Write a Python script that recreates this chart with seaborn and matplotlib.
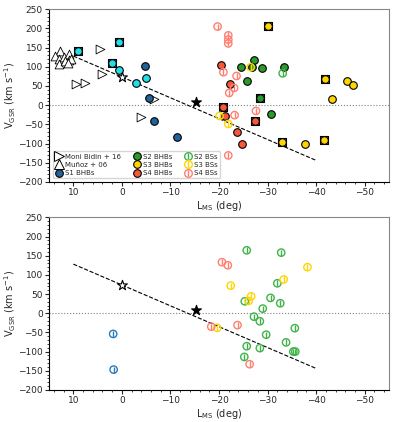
import numpy as np
import pandas as pd
import matplotlib
matplotlib.use("Agg")
import matplotlib.pyplot as plt
from matplotlib.ticker import MultipleLocator
from matplotlib.lines import Line2D
import seaborn as sns

# ---- 数据 (读自参考图) ----
# 上图
moni_l = [4.5, 4.1, 9.4, 7.5, -6.6, -3.9]
moni_v = [146, 81, 54, 58, 17, -30]
munoz_l = [12.7, 13.7, 12.9, 12.0, 10.9, 10.8, 12.9, 11.7, 10.4, 11.2]
munoz_v = [142, 128, 120, 126, 133, 118, 107, 115, 120, 110]

s1_bhb_l = [-4.7, -5.5, -6.6, -11.3]
s1_bhb_v = [102, 18, -41, -84]
cyan_l = [9.1, 0.5, 2.0, 0.7, -2.9, -4.9]
cyan_v = [141, 166, 109, 92, 58, 70]

s2_bhb_l = [-24.5, -27.2, -26.7, -28.9, -33.4, -25.8, -28.5, -30.6]
s2_bhb_v = [100, 117, 99, 97, 99, 63, 18, -24]
s3_bhb_l = [-30.0, -41.8, -46.3, -47.6, -43.3, -32.9, -37.7, -41.6]
s3_bhb_v = [207, 69, 62, 53, 16, -96, -100, -91]
s4_bhb_l = [-20.4, -22.2, -20.9, -21.3, -27.3, -23.7, -24.7]
s4_bhb_v = [105, 55, -4, -27, -41, -70, -102]

s2_bs_top_l = [-33.1]
s2_bs_top_v = [83]
s3_bs_top_l = [-26.5, -20.1, -21.9]
s3_bs_top_v = [99, -28, -49]
s4_bs_top_l = [-19.7, -21.9, -21.9, -21.9, -20.9, -23.6, -23.1, -22.1, -27.6, -23.2, -21.9]
s4_bs_top_v = [205, 182, 171, 161, 86, 76, 45, 32, -15, -26, -131]

# 带方框的点
box_l = [9.1, 0.5, 2.0, -20.9, -27.3, -28.5, -30.0, -41.8, -32.9, -41.6]
box_v = [141, 166, 109, -4, -41, 18, 207, 69, -96, -91]

# 下图
s1_bs_l = [1.8, 1.7]
s1_bs_v = [-54, -147]
s2_bs_l = [-25.7, -32.8, -32.0, -30.6, -32.6, -25.3, -29.0, -27.2, -28.4, -35.6,
           -29.7, -33.8, -25.7, -28.4, -35.3, -35.7, -25.2]
s2_bs_v = [164, 158, 78, 40, 26, 31, 12, -9, -21, -39,
           -56, -76, -86, -91, -100, -100, -114]
s3_bs_l = [-38.2, -33.3, -22.4, -26.6, -26.1, -19.6]
s3_bs_v = [120, 88, 72, 44, 32, -38]
s4_bs_l = [-20.6, -21.8, -18.4, -23.8, -26.3]
s4_bs_v = [133, 125, -35, -31, -133]

star_open = (0.0, 73)
star_fill = (-15.2, 9)
line_l = [10, -40]
line_v = [128, -144]

c_s1 = '#22639c'
c_s1bs = '#2b7bba'
c_cyan = '#1fe0ea'
c_s2 = '#2a9a2a'
c_s2bs = '#3fb34a'
c_s3 = '#ffd500'
c_s4 = '#f4593a'
c_s4bs = '#ff7f70'

sns.set_style("ticks")
plt.rcParams['font.family'] = ['DejaVu Sans']
plt.rcParams['font.size'] = 6

fig = plt.figure(figsize=(3.99, 4.22), dpi=100)
ax1 = fig.add_axes([0.123, 0.569, 0.852, 0.409])
ax2 = fig.add_axes([0.123, 0.076, 0.852, 0.409])


def filled(ax, l, v, color, size=30, marker='o', z=3):
    sns.scatterplot(x=l, y=v, ax=ax, color=color, marker=marker, s=size,
                    edgecolor='black', linewidth=0.8, zorder=z)


def open_bs(ax, l, v, color):
    sns.scatterplot(x=l, y=v, ax=ax, marker='o', s=28, facecolor='none',
                    edgecolor=color, linewidth=1.0, zorder=4)
    sns.scatterplot(x=l, y=v, ax=ax, marker='|', s=22, color=color,
                    linewidth=1.0, zorder=4)


def base(ax):
    ax.axhline(0, color='gray', ls=':', lw=0.8, zorder=1)
    ax.plot(line_l, line_v, color='black', ls='--', lw=0.8, zorder=2)
    ax.scatter(*star_open, marker='*', s=55, facecolor='white', edgecolor='black',
               linewidth=0.8, zorder=5)
    ax.scatter(*star_fill, marker='*', s=55, facecolor='black', edgecolor='black',
               linewidth=0.8, zorder=5)
    ax.set_xlim(15, -55)
    ax.set_ylim(-200, 250)
    ax.xaxis.set_major_locator(MultipleLocator(10))
    ax.xaxis.set_minor_locator(MultipleLocator(2))
    ax.yaxis.set_major_locator(MultipleLocator(50))
    ax.yaxis.set_minor_locator(MultipleLocator(10))
    ax.tick_params(which='major', length=3, width=0.8, labelsize=6.5, pad=1.5)
    ax.tick_params(which='minor', length=1.5, width=0.6)
    for s in ['top', 'right']:
        ax.spines[s].set_color('#888888')
    for s in ['left', 'bottom']:
        ax.spines[s].set_color('black')
    ax.set_xlabel(r'L$_{\rm MS}$ (deg)', fontsize=7, labelpad=1)
    ax.set_ylabel(r'V$_{\rm GSR}$ (km s$^{-1}$)', fontsize=7)
    ax.yaxis.set_label_coords(-0.09, 0.5)


# ---- 上图 ----
base(ax1)
sns.scatterplot(x=box_l, y=box_v, ax=ax1, marker='s', s=40, color='#8a8a8a',
                edgecolor='black', linewidth=0.8, zorder=2.5)
sns.scatterplot(x=moni_l, y=moni_v, ax=ax1, marker='>', s=40, facecolor='white',
                edgecolor='black', linewidth=0.6, zorder=3)
sns.scatterplot(x=munoz_l, y=munoz_v, ax=ax1, marker='^', s=40, facecolor='white',
                edgecolor='black', linewidth=0.6, zorder=3)
filled(ax1, s1_bhb_l, s1_bhb_v, c_s1)
filled(ax1, cyan_l, cyan_v, c_cyan)
filled(ax1, s2_bhb_l, s2_bhb_v, c_s2)
filled(ax1, s3_bhb_l, s3_bhb_v, c_s3)
filled(ax1, s4_bhb_l, s4_bhb_v, c_s4)
open_bs(ax1, s2_bs_top_l, s2_bs_top_v, c_s2bs)
open_bs(ax1, s3_bs_top_l, s3_bs_top_v, c_s3)
open_bs(ax1, s4_bs_top_l, s4_bs_top_v, c_s4bs)


def bs_handle(color):
    return (Line2D([], [], ls='none', marker='o', ms=5.5, mfc='none', mec=color, mew=1.0),
            Line2D([], [], ls='none', marker='|', ms=4.5, color=color, mew=1.0))


handles = [
    Line2D([], [], ls='none', marker='>', ms=6.5, mfc='white', mec='black', mew=0.7),
    Line2D([], [], ls='none', marker='^', ms=6.5, mfc='white', mec='black', mew=0.7),
    Line2D([], [], ls='none', marker='o', ms=5.5, mfc=c_s1, mec='black', mew=0.8),
    Line2D([], [], ls='none', marker='o', ms=5.5, mfc=c_s2, mec='black', mew=0.8),
    Line2D([], [], ls='none', marker='o', ms=5.5, mfc=c_s3, mec='black', mew=0.8),
    Line2D([], [], ls='none', marker='o', ms=5.5, mfc=c_s4, mec='black', mew=0.8),
    bs_handle(c_s2bs), bs_handle(c_s3), bs_handle(c_s4bs),
]
labels = ['Moni Bidin + 16', 'Muñoz + 06', 'S1 BHBs', 'S2 BHBs', 'S3 BHBs',
          'S4 BHBs', 'S2 BSs', 'S3 BSs', 'S4 BSs']
ax1.legend(handles, labels, ncol=3, loc='lower left', fontsize=5,
           handletextpad=0.3, columnspacing=1.6, labelspacing=0.3,
           borderpad=0.35, handlelength=1.2, frameon=True,
           bbox_to_anchor=(0.0, 0.0))

# ---- 下图 ----
base(ax2)
open_bs(ax2, s1_bs_l, s1_bs_v, c_s1bs)
open_bs(ax2, s2_bs_l, s2_bs_v, c_s2bs)
open_bs(ax2, s3_bs_l, s3_bs_v, c_s3)
open_bs(ax2, s4_bs_l, s4_bs_v, c_s4bs)

fig.savefig('out.png', dpi=100)
